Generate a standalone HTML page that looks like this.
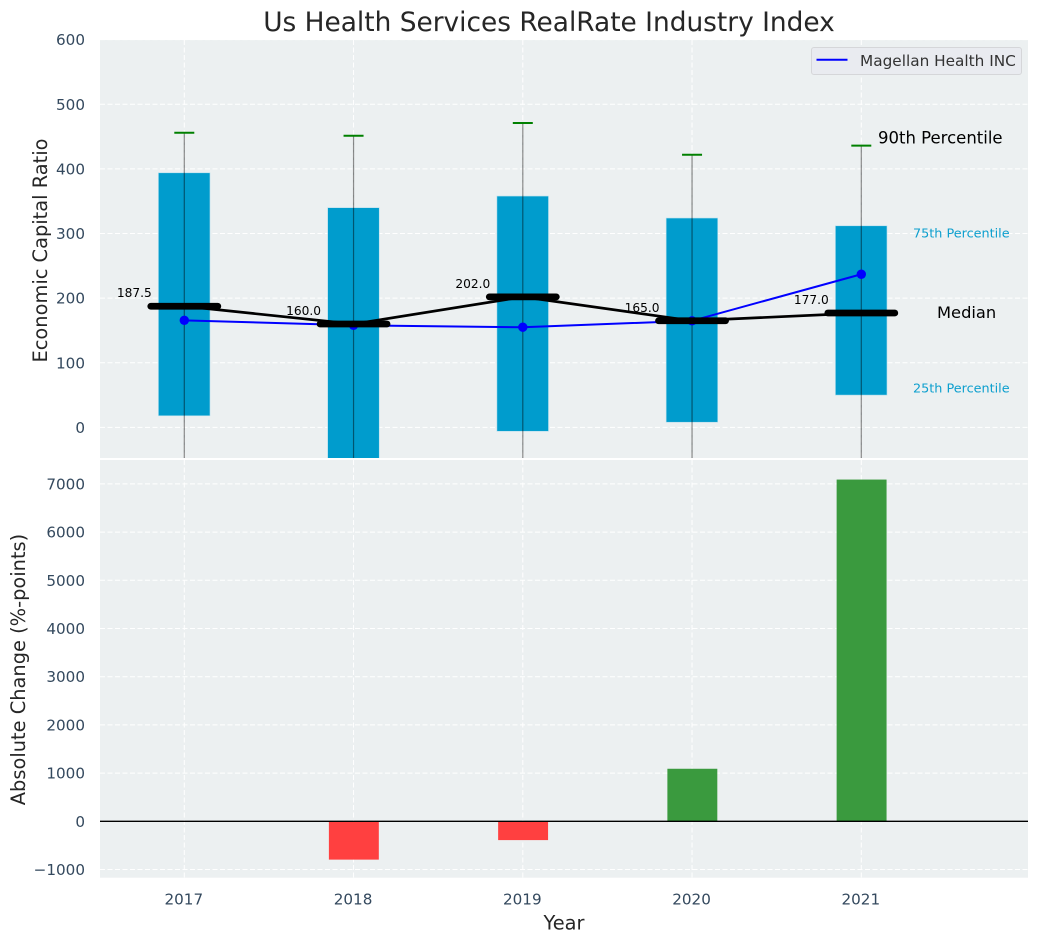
<!DOCTYPE html>
<html lang="en">
<head>
<meta charset="utf-8">
<title>Us Health Services RealRate Industry Index</title>
<style>
html,body{margin:0;padding:0;background:#fff;}
svg{display:block;}
text{font-family:"DejaVu Sans","Liberation Sans",sans-serif;}
</style>
</head>
<body>
<svg id="chart" width="1039" height="942" viewBox="0 0 1039 942" xmlns="http://www.w3.org/2000/svg"></svg>
<script>
const years = [2017, 2018, 2019, 2020, 2021];
const p90 = [456, 451.4, 471, 422, 436];
const p75 = [394, 340, 358, 324, 312];
const p25 = [18, -60, -6, 8, 50];
const p10 = [-150, -200, -150, -150, -120];
const medians = [187.5, 160.0, 202.0, 165.0, 177.0];
const company = [165.7, 158, 155, 165, 237];
const changes = [0, -795, -390, 1090, 7090];
const topTicks = [0, 100, 200, 300, 400, 500, 600];
const bottomTicks = [-1000, 0, 1000, 2000, 3000, 4000, 5000, 6000, 7000];

const NS = 'http://www.w3.org/2000/svg';
const svg = document.getElementById('chart');
const L = 100, R = 1028, T1 = 40, B1 = 458, T2 = 460, B2 = 877.7;
const fx = v => 184.3 + (v - 2017) * 169.25;
const fy1 = v => 427.4 - v * 0.6462;
const fy2 = v => 821.3 - v * 0.0482;
const pxW = v => v * 169.25;

function mk(tag, attrs, parent) {
  const el = document.createElementNS(NS, tag);
  for (const k in attrs) el.setAttribute(k, attrs[k]);
  (parent || svg).appendChild(el);
  return el;
}
function txt(str, attrs, parent) {
  const el = mk('text', attrs, parent);
  el.textContent = str;
  return el;
}

const defs = mk('defs', {});
const cp1 = mk('clipPath', {id: 'clip-top'}, defs);
mk('rect', {x: L, y: T1, width: R - L, height: B1 - T1}, cp1);
const cp2 = mk('clipPath', {id: 'clip-bottom'}, defs);
mk('rect', {x: L, y: T2, width: R - L, height: B2 - T2}, cp2);

/* panels */
let bg = mk('rect', {x: L, y: T1, width: R - L, height: B1 - T1, fill: '#ecf0f1'});


bg = mk('rect', {x: L, y: T2, width: R - L, height: B2 - T2, fill: '#ecf0f1'});



const gTop = mk('g', {'clip-path': 'url(#clip-top)'});


const gBottom = mk('g', {'clip-path': 'url(#clip-bottom)'});



const gridStyle = {stroke: '#ffffff', 'stroke-width': 1, 'stroke-dasharray': '5 2.5'};

/* grid */
topTicks.forEach(t => {
  const l = mk('line', Object.assign({x1: L, x2: R, y1: fy1(t), y2: fy1(t)}, gridStyle), gTop);
  
  
});
bottomTicks.forEach(t => {
  const l = mk('line', Object.assign({x1: L, x2: R, y1: fy2(t), y2: fy2(t)}, gridStyle), gBottom);
  
  
});
years.forEach(y => {
  let l = mk('line', Object.assign({x1: fx(y), x2: fx(y), y1: T1, y2: B1}, gridStyle), gTop);
  
  
  l = mk('line', Object.assign({x1: fx(y), x2: fx(y), y1: T2, y2: B2}, gridStyle), gBottom);
  
  
});

/* boxes */
years.forEach((y, i) => {
  const w = pxW(0.3);
  const box = mk('rect', {
    x: fx(y) - w / 2 - 0.5, y: fy1(p75[i]), width: w + 0.8,
    height: fy1(p25[i]) - fy1(p75[i]),
    fill: '#009ccd', stroke: '#b5dfee', 'stroke-width': 0.6
  }, gTop);
  
  
});

/* whiskers and caps */
years.forEach((y, i) => {
  const wh = mk('line', {
    x1: fx(y), x2: fx(y), y1: fy1(p90[i]), y2: fy1(p10[i]),
    stroke: '#000000', 'stroke-opacity': 0.45, 'stroke-width': 1.2
  }, gTop);
  
  
  const cap = mk('line', {
    x1: fx(y) - 10, x2: fx(y) + 10, y1: fy1(p90[i]), y2: fy1(p90[i]),
    stroke: '#008000', 'stroke-width': 2
  }, gTop);
  
  
});

/* company series */
const companyLine = mk('polyline', {
  points: years.map((y, i) => fx(y) + ',' + fy1(company[i])).join(' '),
  fill: 'none', stroke: '#0000ff', 'stroke-width': 2
}, gTop);


years.forEach((y, i) => {
  const c = mk('circle', {cx: fx(y), cy: fy1(company[i]), r: 4.7, fill: '#0000ff'}, gTop);
  
  
});

/* median line */
const medianLine = mk('polyline', {
  points: years.map((y, i) => fx(y) + ',' + fy1(medians[i])).join(' '),
  fill: 'none', stroke: '#000000', 'stroke-width': 2.7
}, gTop);


years.forEach((y, i) => {
  const m = mk('line', {
    x1: fx(y) - 33.5, x2: fx(y) + 33.5, y1: fy1(medians[i]), y2: fy1(medians[i]),
    stroke: '#000000', 'stroke-width': 6.8, 'stroke-linecap': 'round'
  }, gTop);
  
  
  const lab = txt(medians[i].toFixed(1), {
    x: fx(y) - 32.5, y: fy1(medians[i]) - 9, 'text-anchor': 'end',
    'font-size': 12.2, fill: '#000000'
  });
  
  
});

/* change bars */
years.forEach((y, i) => {
  const v = changes[i];
  if (v === 0) return;
  const w = pxW(0.295);
  const top = Math.min(fy2(v), fy2(0));
  const b = mk('rect', {
    x: fx(y) - w / 2 + 0.3, y: top, width: w,
    height: Math.abs(fy2(v) - fy2(0)),
    fill: v < 0 ? '#ff4040' : '#3a9a3e'
  }, gBottom);
  
  
});
const zero = mk('line', {x1: L, x2: R, y1: fy2(0), y2: fy2(0), stroke: '#000000', 'stroke-width': 1.4}, gBottom);



/* tick labels */
const tickColor = '#34495e';
topTicks.forEach(t => {
  const e = txt(String(t), {x: 85, y: fy1(t) + 5.5, 'text-anchor': 'end', 'font-size': 15.2, fill: tickColor});
  
  
});
bottomTicks.forEach(t => {
  const s = t < 0 ? '\u2212' + Math.abs(t) : String(t);
  const e = txt(s, {x: 85, y: fy2(t) + 5.5, 'text-anchor': 'end', 'font-size': 15.2, fill: tickColor});
  
  
});
years.forEach(y => {
  const e = txt(String(y), {x: fx(y) - 0.5, y: 904.5, 'text-anchor': 'middle', 'font-size': 15.2, fill: tickColor});
  
  
});

/* titles */
let t = txt('Us Health Services RealRate Industry Index', {x: 549, y: 31, 'text-anchor': 'middle', 'font-size': 26.4, fill: '#262626'});


t = txt('Year', {x: 564, y: 929.7, 'text-anchor': 'middle', 'font-size': 19.4, fill: '#262626'});


t = txt('Economic Capital Ratio', {x: 0, y: 0, 'text-anchor': 'middle', 'font-size': 19.4, fill: '#262626', transform: 'translate(47,250.5) rotate(-90)'});


t = txt('Absolute Change (%-points)', {x: 0, y: 0, 'text-anchor': 'middle', 'font-size': 19.4, fill: '#262626', transform: 'translate(25,669.5) rotate(-90)'});



/* annotations */
t = txt('90th Percentile', {x: 878, y: 143.3, 'font-size': 16.5, fill: '#000000'});


t = txt('Median', {x: 937, y: 318, 'font-size': 16.3, fill: '#000000'});


t = txt('75th Percentile', {x: 913, y: 237.3, 'font-size': 12.8, fill: '#0d9fce'});


t = txt('25th Percentile', {x: 913, y: 392.3, 'font-size': 12.8, fill: '#0d9fce'});



/* legend */
const lg = mk('g', {});


const lb = mk('rect', {x: 811.5, y: 47.5, width: 210, height: 27, rx: 2.5, fill: '#e9ebf0', stroke: '#d5d6d9', 'stroke-width': 1}, lg);


const ll = mk('line', {x1: 816.5, x2: 847.5, y1: 59.8, y2: 59.8, stroke: '#0000ff', 'stroke-width': 2}, lg);


const lt = txt('Magellan Health INC', {x: 860, y: 66, 'font-size': 15.3, fill: '#333333'}, lg);


</script>
</body>
</html>
